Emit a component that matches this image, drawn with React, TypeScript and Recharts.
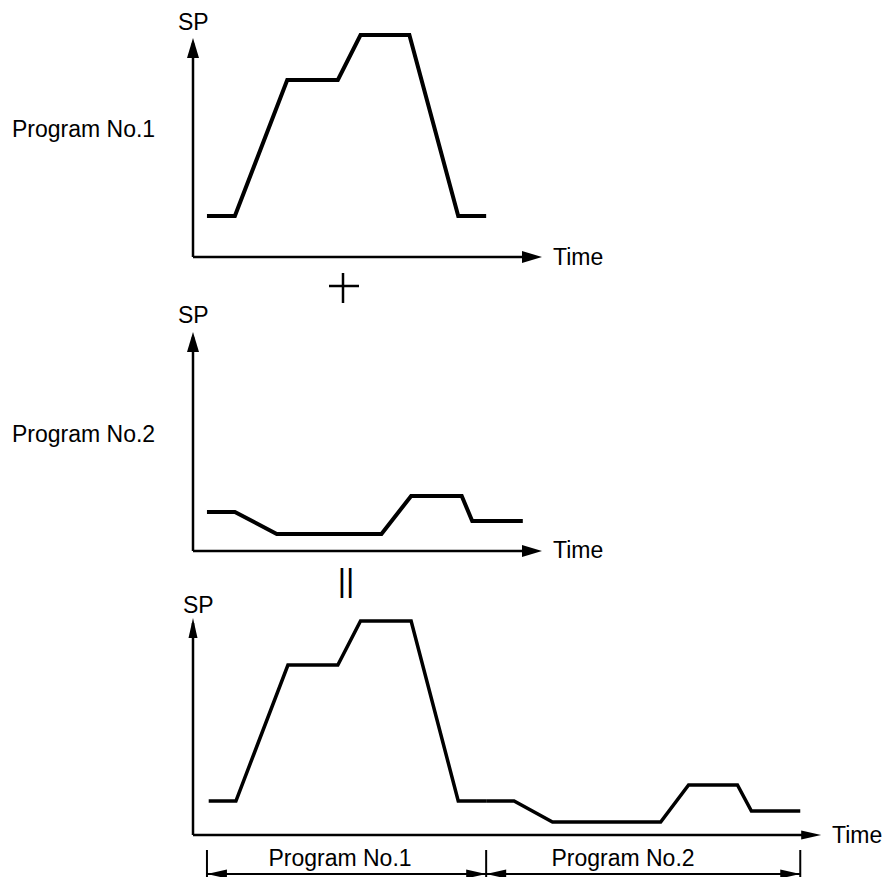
import { LineChart, Line, XAxis, YAxis, ReferenceLine, ReferenceDot } from 'recharts';

// time axis units, SP units
const prog1Time = [4, 12, 27, 41.5, 48, 62, 76, 84];
const prog1Sp = [41, 41, 177, 177, 222, 222, 41, 41];

const prog2Time = [4, 12, 24, 54, 62.5, 77, 80, 94.5];
const prog2Sp = [39, 39, 17, 17, 55, 55, 30, 30];

// linked run: program 1 followed by program 2
const linked1Time = [4.5, 12.3, 27.2, 41.5, 48, 62.5, 76, 84];
const linked1Sp = [34, 34, 170, 170, 214, 214, 34, 34];
const linked2Time = [84, 92, 103, 134, 142, 156, 160, 174];
const linked2Sp = [34, 34, 13, 13, 50, 50, 24, 24];

const bracketTicks = [4, 84, 174];
const bracketLabels = ['Program No.1', 'Program No.2'];

const toRows = (t: number[], sp: number[]) => t.map((v, i) => ({ t: v, sp: sp[i] }));

const FONT = '"Liberation Sans", Arial, Helvetica, sans-serif';

const arrowRight = (len: number, half: number) => (p: any) => (
  <polygon points={`${p.cx},${p.cy} ${p.cx - len},${p.cy - half} ${p.cx - len},${p.cy + half}`} fill="#000" />
);
const arrowLeft = (len: number, half: number) => (p: any) => (
  <polygon points={`${p.cx},${p.cy} ${p.cx + len},${p.cy - half} ${p.cx + len},${p.cy + half}`} fill="#000" />
);
const arrowUp = (len: number, half: number) => (p: any) => (
  <polygon points={`${p.cx},${p.cy} ${p.cx - half},${p.cy + len} ${p.cx + half},${p.cy + len}`} fill="#000" />
);

function axes(xMax: number, yTip: number, head: number) {
  return [
    <ReferenceLine key="ax" segment={[{ x: 0, y: 0 }, { x: xMax - 5, y: 0 }]} stroke="#000" strokeWidth={2.5} ifOverflow="visible" />,
    <ReferenceLine key="ay" segment={[{ x: 0, y: 0 }, { x: 0, y: yTip - 5 }]} stroke="#000" strokeWidth={2.5} ifOverflow="visible" />,
    <ReferenceDot key="hx" x={xMax} y={0} ifOverflow="visible" shape={arrowRight(20, head)} />,
    <ReferenceDot key="hy" x={0} y={yTip} ifOverflow="visible" shape={arrowUp(20, head)} />,
  ];
}

function bracket() {
  const els: any[] = [];
  bracketTicks.forEach((t, i) => {
    els.push(
      <ReferenceLine key={`tk${i}`} segment={[{ x: t, y: -15 }, { x: t, y: -45 }]} stroke="#000" strokeWidth={2} ifOverflow="visible" />
    );
  });
  for (let i = 0; i < bracketTicks.length - 1; i++) {
    const a = bracketTicks[i];
    const b = bracketTicks[i + 1];
    els.push(
      <ReferenceLine key={`sg${i}`} segment={[{ x: a, y: -39 }, { x: b, y: -39 }]} stroke="#000" strokeWidth={2} ifOverflow="visible" />,
      <ReferenceDot key={`la${i}`} x={a} y={-39} ifOverflow="visible" shape={arrowLeft(20, 4.5)} />,
      <ReferenceDot key={`ra${i}`} x={b} y={-39} ifOverflow="visible" shape={arrowRight(20, 4.5)} />
    );
  }
  return els;
}

const chartBox = (top: number): React.CSSProperties => ({ position: 'absolute', left: 0, top });

export default function App() {
  return (
    <div style={{ position: 'absolute', left: 0, top: 0, width: 886, height: 877, background: '#fff', fontFamily: FONT }}>
      <div style={chartBox(0)}>
        <LineChart width={886} height={270} margin={{ top: 27, right: 344, bottom: 13, left: 193 }}>
          <XAxis type="number" dataKey="t" domain={[0, 100]} hide />
          <YAxis type="number" domain={[0, 230]} hide />
          {axes(100, 219, 6)}
          <Line data={toRows(prog1Time, prog1Sp)} dataKey="sp" type="linear" stroke="#000" strokeWidth={4} dot={false} isAnimationActive={false} />
        </LineChart>
      </div>

      <div style={chartBox(290)}>
        <LineChart width={886} height={275} margin={{ top: 31, right: 344, bottom: 14, left: 193 }}>
          <XAxis type="number" dataKey="t" domain={[0, 100]} hide />
          <YAxis type="number" domain={[0, 230]} hide />
          {axes(100, 219, 6)}
          <Line data={toRows(prog2Time, prog2Sp)} dataKey="sp" type="linear" stroke="#000" strokeWidth={4} dot={false} isAnimationActive={false} />
        </LineChart>
      </div>

      <div style={chartBox(590)}>
        <LineChart width={886} height={287} margin={{ top: 15, right: 64.8, bottom: 42, left: 193 }}>
          <XAxis type="number" dataKey="t" domain={[0, 180]} hide />
          <YAxis type="number" domain={[0, 230]} hide />
          {axes(180, 217, 4.5)}
          {bracket()}
          <Line data={toRows(linked1Time, linked1Sp)} dataKey="sp" type="linear" stroke="#000" strokeWidth={3.5} dot={false} isAnimationActive={false} />
          <Line data={toRows(linked2Time, linked2Sp)} dataKey="sp" type="linear" stroke="#000" strokeWidth={3.5} dot={false} isAnimationActive={false} />
        </LineChart>
      </div>

      <svg width={886} height={877} style={{ position: 'absolute', left: 0, top: 0, pointerEvents: 'none' }}>
        <g fontFamily={FONT} fontSize={23} fill="#000">
          <text x={178} y={30}>SP</text>
          <text x={553} y={265}>Time</text>
          <text x={12} y={137}>Program No.1</text>

          <text x={178} y={323}>SP</text>
          <text x={553} y={558}>Time</text>
          <text x={12} y={442}>Program No.2</text>

          <text x={183} y={613}>SP</text>
          <text x={832} y={843}>Time</text>
          <text x={340} y={866} textAnchor="middle">{bracketLabels[0]}</text>
          <text x={623} y={866} textAnchor="middle">{bracketLabels[1]}</text>

          <text x={346} y={591} fontSize={32} textAnchor="middle">||</text>
        </g>
        <line x1={329} y1={286} x2={359} y2={286} stroke="#000" strokeWidth={2.5} />
        <line x1={343} y1={273} x2={343} y2={303} stroke="#000" strokeWidth={2.5} />
      </svg>
    </div>
  );
}
